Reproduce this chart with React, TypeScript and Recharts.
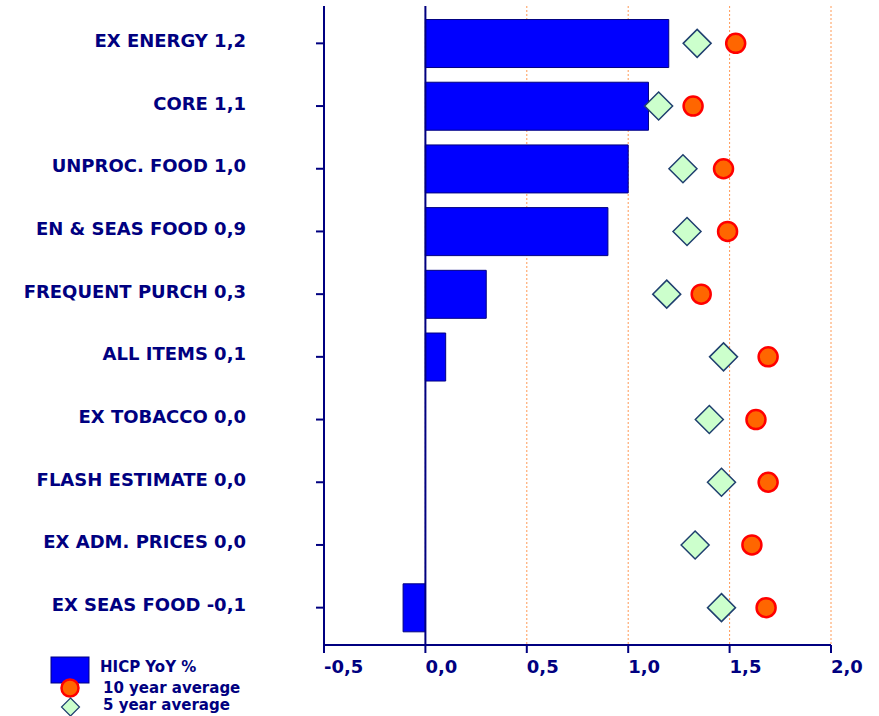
import { ComposedChart, Bar, Line, XAxis, YAxis, CartesianGrid, ReferenceLine } from 'recharts';

const categories = [
  'EX ENERGY 1,2',
  'CORE 1,1',
  'UNPROC. FOOD 1,0',
  'EN & SEAS FOOD 0,9',
  'FREQUENT PURCH 0,3',
  'ALL ITEMS 0,1',
  'EX TOBACCO 0,0',
  'FLASH ESTIMATE 0,0',
  'EX ADM. PRICES 0,0',
  'EX SEAS FOOD -0,1',
];
const hicpYoY = [1.2, 1.1, 1.0, 0.9, 0.3, 0.1, 0.0, 0.0, 0.0, -0.11];
const tenYearAvg = [1.53, 1.32, 1.47, 1.49, 1.36, 1.69, 1.63, 1.69, 1.61, 1.68];
const fiveYearAvg = [1.34, 1.15, 1.27, 1.29, 1.19, 1.47, 1.4, 1.46, 1.33, 1.46];
const xTicks = [-0.5, 0, 0.5, 1, 1.5, 2];

const NAVY = '#000080';
const FONT = '"DejaVu Sans", Verdana, sans-serif';

const data = categories.map((name, i) => ({
  name,
  hicp: hicpYoY[i],
  ten: tenYearAvg[i],
  five: fiveYearAvg[i],
}));

const fmt = (v: number) => v.toFixed(1).replace('.', ',');

const XTick = ({ x, y, payload }: any) => (
  <text x={x} y={y + 20} textAnchor="start" fill={NAVY} fontFamily={FONT} fontWeight="bold" fontSize={18}>
    {fmt(payload.value)}
  </text>
);

const YTick = ({ x, y, payload }: any) => (
  <text x={x} y={y + 3.5} textAnchor="end" fill={NAVY} fontFamily={FONT} fontWeight="bold" fontSize={18}>
    {payload.value}
  </text>
);

const CircleDot = ({ cx, cy, index }: any) =>
  cx == null ? null : <circle key={'c' + index} cx={cx} cy={cy} r={9.5} fill="#FF6600" stroke="#FF0000" strokeWidth={2.5} />;

const DiamondDot = ({ cx, cy, index }: any) =>
  cx == null ? null : (
    <path
      key={'d' + index}
      d={`M${cx},${cy - 14} L${cx + 14},${cy} L${cx},${cy + 14} L${cx - 14},${cy} Z`}
      fill="#CCFFCC"
      stroke="#1F3F6F"
      strokeWidth={1.5}
    />
  );

const Legend = () => (
  <svg width={300} height={66} style={{ position: 'absolute', left: 0, top: 650 }}>
    <rect x={51} y={7} width={38} height={26} fill="#0000FF" stroke={NAVY} strokeWidth={1} />
    <text x={100} y={22} fill={NAVY} fontFamily={FONT} fontWeight="bold" fontSize={15}>HICP YoY %</text>
    <circle cx={70} cy={38} r={8.5} fill="#FF6600" stroke="#FF0000" strokeWidth={2.5} />
    <text x={103} y={43} fill={NAVY} fontFamily={FONT} fontWeight="bold" fontSize={15}>10 year average</text>
    <path d="M70.5,48 L79.5,57 L70.5,66 L61.5,57 Z" fill="#CCFFCC" stroke="#1F3F6F" strokeWidth={1.2} />
    <text x={103} y={60} fill={NAVY} fontFamily={FONT} fontWeight="bold" fontSize={15}>5 year average</text>
  </svg>
);

export default function App() {
  return (
    <div style={{ position: 'absolute', left: 0, top: 0, width: 879, height: 716, background: '#fff' }}>
      <ComposedChart
        width={879}
        height={716}
        data={data}
        layout="vertical"
        margin={{ top: 6, right: 48, left: 0, bottom: 0 }}
        barCategoryGap="12%"
      >
        <CartesianGrid horizontal={false} stroke="#FF9955" strokeWidth={1} strokeDasharray="2 2" />
        <XAxis
          type="number"
          domain={[-0.5, 2]}
          ticks={xTicks}
          height={71}
          axisLine={{ stroke: NAVY, strokeWidth: 2 }}
          tickLine={{ stroke: NAVY, strokeWidth: 2 }}
          tickSize={8}
          tickMargin={0}
          tick={<XTick />}
          interval={0}
        />
        <YAxis
          type="category"
          dataKey="name"
          width={324}
          padding={{ top: 6, bottom: 6 }}
          axisLine={{ stroke: NAVY, strokeWidth: 2 }}
          tickLine={{ stroke: NAVY, strokeWidth: 2 }}
          tickSize={8}
          tickMargin={70}
          tick={<YTick />}
          interval={0}
        />
        <ReferenceLine x={0} stroke={NAVY} strokeWidth={2} />
        <Bar dataKey="hicp" fill="#0000FF" stroke={NAVY} strokeWidth={1} isAnimationActive={false} />
        <Line dataKey="five" stroke="none" dot={<DiamondDot />} activeDot={false} isAnimationActive={false} />
        <Line dataKey="ten" stroke="none" dot={<CircleDot />} activeDot={false} isAnimationActive={false} />
      </ComposedChart>
      <Legend />
    </div>
  );
}
